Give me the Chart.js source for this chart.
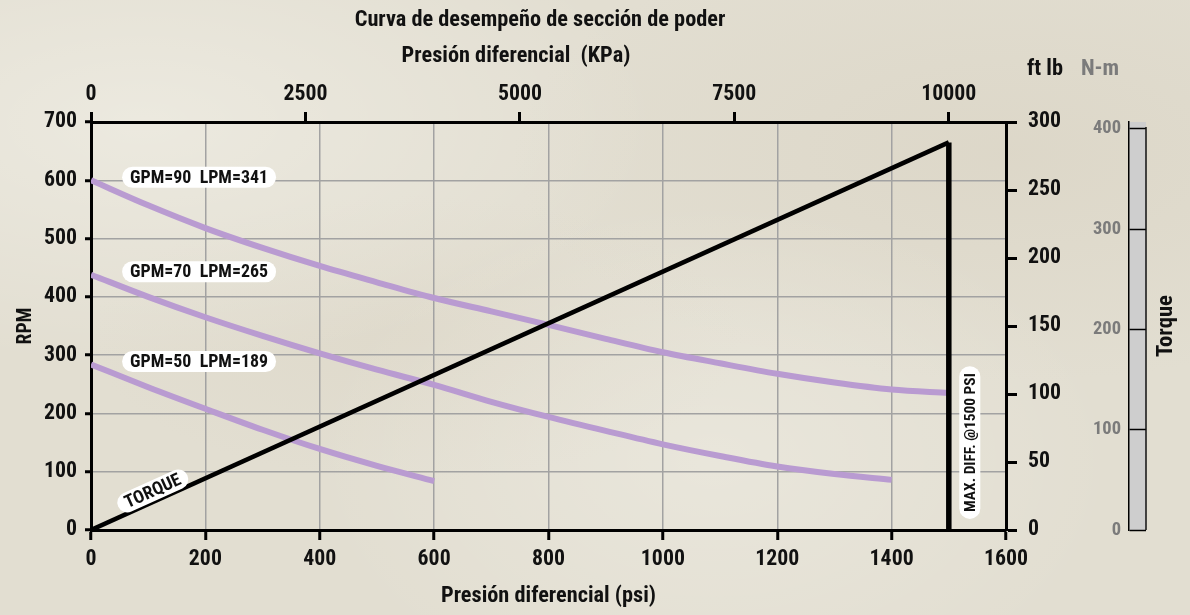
<!DOCTYPE html>
<html>
<head>
<meta charset="utf-8">
<script src="https://cdn.jsdelivr.net/npm/chart.js@4.4.1/dist/chart.umd.min.js"></script>
<style>
html,body{margin:0;padding:0;width:1190px;height:615px;overflow:hidden;background:#e2ded1;}
#wrap{position:relative;width:1190px;height:615px;
background-color:#e2ded1;
background-image:
 radial-gradient(ellipse at 12% 20%, rgba(255,255,250,0.35), rgba(255,255,250,0) 35%),
 radial-gradient(ellipse at 60% 75%, rgba(255,255,250,0.25), rgba(255,255,250,0) 40%),
 radial-gradient(ellipse at 85% 25%, rgba(205,195,175,0.25), rgba(205,195,175,0) 35%),
 radial-gradient(ellipse at 35% 55%, rgba(210,200,180,0.2), rgba(210,200,180,0) 30%);}
canvas{display:block;}
</style>
</head>
<body>
<div id="wrap"><canvas id="c" width="1190" height="615"></canvas></div>
<script>
// ---------------- data ----------------
const psi90 = [0,100,200,300,400,500,600,700,800,900,1000,1100,1200,1300,1400,1500];
const rpm90 = [600,557,518,484,453,425,398,375,352,328,305,286,268,253,241,235];
const psi70 = [0,100,200,300,400,500,600,700,800,900,1000,1100,1200,1300,1400];
const rpm70 = [438,400,365,333,303,275,249,220,194,170,147,127,109,96,86];
const psi50 = [0,100,200,300,400,500,600];
const rpm50 = [284,245,208,172,139,110,84];
const torquePsi = [0,1500];
const torqueFtLb = [0,285];
const maxDiffPsi = [1500,1500];
const maxDiffFtLb = [0,285];
const seriesLabels = ['GPM=90  LPM=341','GPM=70  LPM=265','GPM=50  LPM=189'];
const kpaTicks = [0,2500,5000,7500,10000];
const nmTicks = [0,100,200,300,400];

// ---------------- fonts ----------------
const mctx = document.createElement('canvas').getContext('2d');
function hasFont(name){
  const t='abcdefghijklmnopqrstuvwxyz0123456789';
  mctx.font='bold 40px monospace'; const w1=mctx.measureText(t).width;
  mctx.font='bold 40px "'+name+'", monospace'; const w2=mctx.measureText(t).width;
  return Math.abs(w1-w2)>0.5;
}
const CANDS = ['Liberation Sans Narrow','Noto Sans Condensed','Roboto Condensed','Open Sans Condensed','Noto Sans Display Condensed','DejaVu Sans Condensed','Liberation Sans'];
let FAM = 'DejaVu Sans';
for (const c of CANDS) { if (hasFont(c)) { FAM = c; break; } }
const FF = '"' + FAM + '", sans-serif';
function fit(text, w){
  mctx.font = 'bold 100px ' + FF;
  return Math.round(100 * w / mctx.measureText(text).width * 10) / 10;
}
const S_TICK = fit('600', 33);
const S_TITLE = fit('Curva de desempeño de sección de poder', 370);
const S_AX = fit('Presión diferencial (psi)', 215);
const S_PILL = fit('GPM=90  LPM=341', 138);
const S_TQ = fit('TORQUE', 60);
const S_MD = fit('MAX. DIFF. @1500 PSI', 139);
const S_NM = fit('400', 28);
const S_RPM = fit('RPM', 37);
const S_TORQ = fit('Torque', 62);

Chart.defaults.font.family = FF;
Chart.defaults.font.weight = 'bold';
Chart.defaults.color = '#111';

const PURPLE = '#b99bd1';
const GRID = '#a2a2a2';
const xy = (xs, ys) => xs.map((x,i)=>({x:x, y:ys[i]}));
const plain = v => String(v);

function pill(ctx, cx, cy, angle, text, size, padX, h){
  ctx.save();
  ctx.translate(cx, cy); ctx.rotate(angle);
  ctx.font = 'bold ' + size + 'px ' + FF;
  const w = ctx.measureText(text).width + 2*padX;
  ctx.beginPath();
  ctx.roundRect(-w/2, -h/2, w, h, h/2);
  ctx.fillStyle = '#ffffff'; ctx.fill();
  ctx.fillStyle = '#111'; ctx.textAlign = 'center'; ctx.textBaseline = 'middle';
  ctx.fillText(text, 0, 1);
  ctx.restore();
}

const decor = {
  id: 'decor',
  beforeDraw(chart){
    const ctx = chart.ctx, s = chart.scales.y3;
    ctx.save();
    ctx.fillStyle = '#cecece';
    ctx.fillRect(s.left, s.top, 17, s.bottom - s.top);
    ctx.restore();
  },
  afterDatasetsDraw(chart){
    const ctx = chart.ctx, x = chart.scales.x, y = chart.scales.y, y2 = chart.scales.y2;
    const starts = [rpm90[0], rpm70[0], rpm50[0]];
    seriesLabels.forEach((t,i)=>{
      pill(ctx, x.getPixelForValue(189), y.getPixelForValue(starts[i]) - 3, 0, t, S_PILL, 8, 21);
    });
    const x0 = x.getPixelForValue(torquePsi[0]), y0 = y2.getPixelForValue(torqueFtLb[0]);
    const x1 = x.getPixelForValue(torquePsi[1]), y1 = y2.getPixelForValue(torqueFtLb[1]);
    const ang = Math.atan2(y1 - y0, x1 - x0);
    pill(ctx, x.getPixelForValue(108), y.getPixelForValue(67), ang, 'TORQUE', S_TQ, 8, 20);
    pill(ctx, x.getPixelForValue(maxDiffPsi[0]) + 21, y.getPixelForValue(150), -Math.PI/2, 'MAX. DIFF. @1500 PSI', S_MD, 7, 21);
  },
  afterDraw(chart){
    const ctx = chart.ctx, a = chart.chartArea, s = chart.scales.y3, y2 = chart.scales.y2;
    ctx.save();
    ctx.strokeStyle = '#111'; ctx.lineWidth = 1.5;
    ctx.beginPath(); ctx.moveTo(s.left + 17, s.top + 5); ctx.lineTo(s.left + 17, s.bottom); ctx.stroke();
    ctx.fillStyle = '#7b7b7b'; ctx.font = 'bold ' + S_NM + 'px ' + FF;
    ctx.textAlign = 'right'; ctx.textBaseline = 'middle';
    s.ticks.forEach(t => ctx.fillText(String(t.value), s.left - 8, s.getPixelForValue(t.value)));
    ctx.textAlign = 'center';
    ctx.fillStyle = '#111'; ctx.font = 'bold ' + S_TITLE + 'px ' + FF;
    ctx.fillText('Curva de desempeño de sección de poder', a.left + 449, 20);
    ctx.font = 'bold ' + S_AX + 'px ' + FF;
    ctx.fillText('Presión diferencial  (KPa)', a.left + 425, 56);
    ctx.fillText('ft lb', y2.left + 39, 69);
    ctx.fillStyle = '#7b7b7b';
    ctx.fillText('N-m', s.left - 29, 69);
    ctx.fillStyle = '#111';
    ctx.font = 'bold ' + S_TORQ + 'px ' + FF;
    ctx.translate(s.left + 37, (s.top + s.bottom)/2);
    ctx.rotate(-Math.PI/2);
    ctx.fillText('Torque', 0, 0);
    ctx.restore();
  }
};

new Chart(document.getElementById('c'), {
  type: 'line',
  data: {
    datasets: [
      {data: xy(maxDiffPsi, maxDiffFtLb), xAxisID:'x', yAxisID:'y2', borderColor:'#000', borderWidth:5.5, pointRadius:0, borderCapStyle:'butt'},
      {data: xy(torquePsi, torqueFtLb), xAxisID:'x', yAxisID:'y2', borderColor:'#000', borderWidth:4.5, pointRadius:0},
      {data: xy(psi90, rpm90), xAxisID:'x', yAxisID:'y', borderColor:PURPLE, borderWidth:6, pointRadius:0, cubicInterpolationMode:'monotone'},
      {data: xy(psi70, rpm70), xAxisID:'x', yAxisID:'y', borderColor:PURPLE, borderWidth:6, pointRadius:0, cubicInterpolationMode:'monotone'},
      {data: xy(psi50, rpm50), xAxisID:'x', yAxisID:'y', borderColor:PURPLE, borderWidth:6, pointRadius:0, cubicInterpolationMode:'monotone'}
    ]
  },
  options: {
    responsive: false,
    animation: false,
    layout: {padding: 0},
    plugins: {legend:{display:false}, tooltip:{enabled:false}, title:{display:false}},
    scales: {
      x: {
        type:'linear', position:'bottom', min:0, max:1600,
        afterFit: s => { s.height = 85; },
        ticks: {stepSize:200, autoSkip:false, maxRotation:0, padding:6, callback:plain, font:{size:S_TICK, weight:'bold'}, color:'#111'},
        grid: {color:GRID, lineWidth:1.5, tickColor:'#000', tickWidth:3, tickLength:10},
        border: {color:'#000', width:3},
        title: {display:true, text:'Presión diferencial (psi)', font:{size:S_AX, weight:'bold'}, color:'#111', padding:{top:0, bottom:5}}
      },
      x2: {
        type:'linear', position:'top', min:0, max:10000*1600/1500,
        afterFit: s => { s.height = 122; },
        afterBuildTicks: s => { s.ticks = kpaTicks.map(v => ({value:v})); },
        ticks: {autoSkip:false, maxRotation:0, padding:4, callback:plain, font:{size:S_TICK, weight:'bold'}, color:'#111'},
        grid: {drawOnChartArea:false, color:'#000', tickColor:'#000', tickWidth:3, tickLength:10},
        border: {color:'#000', width:3}
      },
      y: {
        type:'linear', position:'left', min:0, max:700,
        afterFit: s => { s.width = 91; },
        ticks: {stepSize:100, padding:8, callback:plain, font:{size:S_TICK, weight:'bold'}, color:'#111'},
        grid: {color:GRID, lineWidth:1.5, tickColor:'#000', tickWidth:3, tickLength:6},
        border: {color:'#000', width:3},
        title: {display:true, text:'RPM', font:{size:S_RPM, weight:'bold'}, color:'#111', padding:{top:14, bottom:0}}
      },
      y2: {
        type:'linear', position:'right', min:0, max:300, weight:0,
        afterFit: s => { s.width = 123; },
        ticks: {stepSize:50, padding:11, callback:plain, font:{size:S_TICK, weight:'bold'}, color:'#111'},
        grid: {drawOnChartArea:false, color:'#000', tickColor:'#000', tickWidth:3, tickLength:11},
        border: {color:'#000', width:3}
      },
      y3: {
        type:'linear', position:'right', min:0, max:300*1.35582, weight:1,
        afterFit: s => { s.width = 61; },
        afterBuildTicks: s => { s.ticks = nmTicks.map(v => ({value:v})); },
        ticks: {display:false},
        grid: {drawOnChartArea:false, color:'#000', tickColor:'#000', tickWidth:1.5, tickLength:17},
        border: {color:'#000', width:1.5}
      }
    }
  },
  plugins: [decor]
});
</script>
</body>
</html>
